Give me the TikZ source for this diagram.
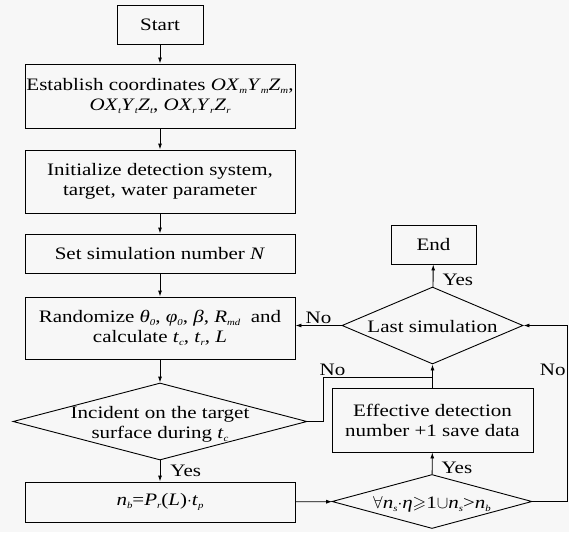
\documentclass[tikz,border=0pt]{standalone}
\usepackage{amssymb}
\usepackage{fontspec}
\setmainfont[FakeStretch=1.2]{Liberation Serif}
\usetikzlibrary{shapes.geometric, arrows.meta}

\tikzset{
	flowbox/.style={draw, rectangle, line width=0.9pt, align=center, inner sep=0pt},
	flowdia/.style={draw, diamond, line width=0.9pt, inner sep=0pt},
	flowline/.style={line width=0.9pt, -{Latex[length=6pt,width=4pt]}},
	flowtag/.style={inner sep=1pt}
}
\newcommand{\iv}[2]{\textit{#1}\raisebox{-3pt}{\fontsize{9}{9}\selectfont\textit{#2}}}
\newcommand{\dtext}[1]{\makebox[0pt]{\smash{\raisebox{-7.5pt}{\begin{tabular}{@{}c@{}}#1\end{tabular}}}}}

\begin{document}
\begin{tikzpicture}[x=1pt, y=-1pt, font=\fontsize{17.5}{20}\selectfont]
	\fill[black!3] (0,0) rectangle (569,532);
	\useasboundingbox (0,0) rectangle (569,532);

	% main column
	\node[flowbox, minimum width=86pt, minimum height=39pt] at (160,24.5) (start){Start};
	\node[flowbox, minimum width=270pt, minimum height=64pt] at (160,96) (coord){Establish coordinates \textit{O}\iv{X}{m}\iv{Y}{m}\iv{Z}{m},\\ \textit{O}\iv{X}{t}\iv{Y}{t}\iv{Z}{t}, \textit{O}\iv{X}{r}\iv{Y}{r}\iv{Z}{r}};
	\node[flowbox, minimum width=270pt, minimum height=63pt] at (160,181.5) (init){Initialize detection system,\\ target, water parameter};
	\node[flowbox, minimum width=270pt, minimum height=39pt] at (160,253.5) (setn){Set simulation number \textit{N}};
	\node[flowbox, minimum width=270pt, minimum height=62pt] at (160,328) (rand){Randomize \iv{θ}{0}, \iv{φ}{0}, \textit{β}, \iv{R}{md} \ and\\ calculate \iv{t}{c}, \iv{t}{r}, \textit{L}};
	\node[flowdia, minimum width=294pt, minimum height=77pt] at (160,421.5) (inc){\dtext{Incident on the target\\ surface during \iv{t}{c}}};
	\node[flowbox, minimum width=270pt, minimum height=40pt] at (160,502) (nb){\iv{n}{b}=\iv{P}{r}(\textit{L})$\cdot$\iv{t}{p}};

	% right column
	\node[flowbox, minimum width=85pt, minimum height=39pt] at (433.5,244.5) (stop){End};
	\node[flowdia, minimum width=181pt, minimum height=77pt] at (432.5,325.5) (last){\dtext{Last simulation}};
	\node[flowbox, minimum width=201pt, minimum height=64pt] at (432.5,420) (eff){Effective detection\\ number +1 save data};
	\node[flowdia, minimum width=200pt, minimum height=54pt] at (432,501.5) (cond){\dtext{$\forall$\iv{n}{s}$\cdot$\textit{η}$\geqslant$1$\cup$\iv{n}{s}>\iv{n}{b}}};

	\coordinate (join) at (432.5,377);
	\coordinate (turn) at (567,501.5);

	\draw[flowline] (start) -- (coord);
	\draw[flowline] (coord) -- (init);
	\draw[flowline] (init) -- (setn);
	\draw[flowline] (setn) -- (rand);
	\draw[flowline] (rand) -- (inc);
	\draw[flowline] (inc) -- node[flowtag, anchor=west, xshift=9pt]{Yes} (nb);
	\draw[flowline] (nb) -- (cond);
	\draw[flowline] (cond) -- node[flowtag, pos=0.3, anchor=west, xshift=8pt]{Yes} (eff);
	\draw[flowline] (eff) -- (last);
	\draw[flowline] (last) -- node[flowtag, pos=0.3, anchor=west, xshift=8pt]{Yes} (stop);
	\draw[flowline] (last.west) -- node[flowtag, above]{No} (last.west -| rand.east);
	\draw[line width=0.9pt] (inc.east) -- ++(16,0) |- node[flowtag, pos=0.5, above, xshift=9pt]{No} (join);
	\draw[flowline] (cond.east) -- (turn) |- node[flowtag, pos=0.375, left]{No} (last.east);
\end{tikzpicture}
\end{document}
